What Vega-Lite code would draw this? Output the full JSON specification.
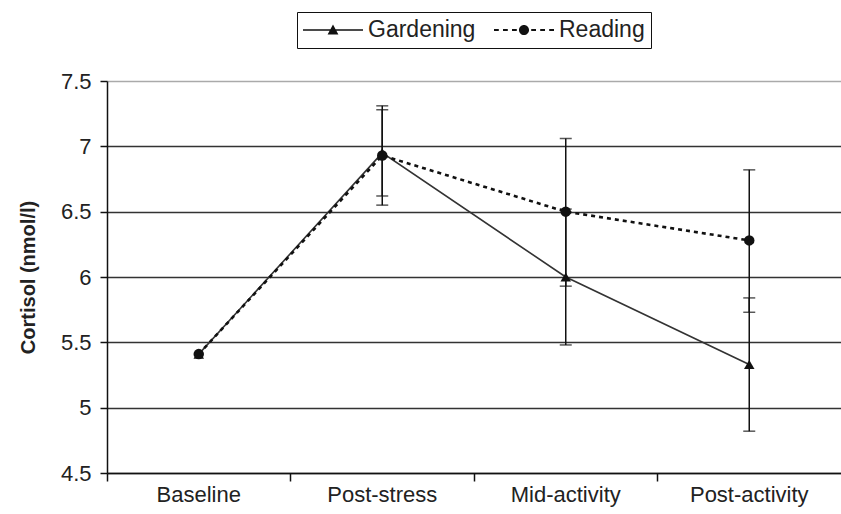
{
  "$schema": "https://vega.github.io/schema/vega-lite/v6.json",
  "width": 734,
  "height": 392,
  "autosize": {"type": "none"},
  "padding": {"left": 107, "top": 81, "right": 0, "bottom": 41},
  "background": "white",
  "data": {
    "values": [
      {"time": "Baseline", "group": "Gardening", "mean": 5.41, "lower": null, "upper": null},
      {"time": "Baseline", "group": "Reading", "mean": 5.41, "lower": null, "upper": null},
      {"time": "Post-stress", "group": "Gardening", "mean": 6.95, "lower": 6.55, "upper": 7.31},
      {"time": "Post-stress", "group": "Reading", "mean": 6.93, "lower": 6.62, "upper": 7.28},
      {"time": "Mid-activity", "group": "Gardening", "mean": 6.0, "lower": 5.48, "upper": 6.52},
      {"time": "Mid-activity", "group": "Reading", "mean": 6.5, "lower": 5.93, "upper": 7.06},
      {"time": "Post-activity", "group": "Gardening", "mean": 5.33, "lower": 4.82, "upper": 5.84},
      {"time": "Post-activity", "group": "Reading", "mean": 6.28, "lower": 5.73, "upper": 6.82}
    ]
  },
  "encoding": {
    "x": {
      "field": "time",
      "type": "nominal",
      "sort": ["Baseline", "Post-stress", "Mid-activity", "Post-activity"],
      "scale": {"type": "band", "paddingInner": 0, "paddingOuter": 0},
      "axis": {
        "title": null,
        "labelAngle": 0,
        "bandPosition": 0,
        "grid": false,
        "ticks": true,
        "tickSize": 8,
        "tickWidth": 1.5,
        "tickColor": "#111",
        "domainColor": "#111",
        "domainWidth": 1.5,
        "labelPadding": 3,
        "labelFontSize": 22,
        "labelFont": "Liberation Sans",
        "labelColor": "#222"
      }
    }
  },
  "layer": [
    {
      "transform": [{"filter": "datum.group === 'Gardening'"}],
      "mark": {"type": "line", "color": "#333", "strokeWidth": 1.6},
      "encoding": {
        "y": {
          "field": "mean",
          "type": "quantitative",
          "scale": {"domain": [4.5, 7.5], "nice": false, "zero": false},
          "axis": {
            "title": "Cortisol (nmol/l)",
            "titleFont": "Liberation Sans",
            "titleFontSize": 20,
            "titleFontWeight": "bold",
            "titleColor": "#222",
            "titlePadding": 22,
            "values": [4.5, 5, 5.5, 6, 6.5, 7, 7.5],
            "format": ".2~f",
            "grid": true,
            "gridColor": {"expr": "datum.value === 7.5 ? '#aaaaaa' : '#333333'"},
            "gridWidth": 1.5,
            "domainColor": "#111",
            "domainWidth": 1.5,
            "tickColor": "#111",
            "tickWidth": 1.5,
            "tickSize": 7,
            "labelPadding": 9,
            "labelFont": "Liberation Sans",
            "labelFontSize": 22,
            "labelColor": "#222"
          }
        }
      }
    },
    {
      "transform": [{"filter": "datum.group === 'Reading'"}],
      "mark": {"type": "line", "color": "#111", "strokeWidth": 2.6, "strokeDash": [4, 4]},
      "encoding": {"y": {"field": "mean", "type": "quantitative"}}
    },
    {
      "transform": [{"filter": "isValid(datum.lower)"}],
      "mark": {"type": "rule", "color": "#111", "strokeWidth": 1.5},
      "encoding": {
        "y": {"field": "lower", "type": "quantitative"},
        "y2": {"field": "upper"}
      }
    },
    {
      "transform": [{"filter": "isValid(datum.lower)"}],
      "mark": {"type": "tick", "color": "#111", "size": 12, "thickness": 1.5, "orient": "horizontal"},
      "encoding": {"y": {"field": "lower", "type": "quantitative"}}
    },
    {
      "transform": [{"filter": "isValid(datum.upper)"}],
      "mark": {"type": "tick", "color": "#111", "size": 12, "thickness": 1.5, "orient": "horizontal"},
      "encoding": {"y": {"field": "upper", "type": "quantitative"}}
    },
    {
      "mark": {"type": "point", "filled": true, "color": "#111", "opacity": 1, "size": 110},
      "encoding": {
        "y": {"field": "mean", "type": "quantitative"},
        "shape": {
          "condition": {"test": "datum.group === 'Gardening'", "value": "triangle-up"},
          "value": "circle"
        }
      }
    },
    {
      "transform": [{"filter": "datum.group === 'none'"}],
      "mark": {"type": "point", "filled": true, "color": "#111", "opacity": 1},
      "encoding": {
        "y": {"field": "mean", "type": "quantitative"},
        "shape": {
          "field": "group",
          "type": "nominal",
          "scale": {
            "domain": ["Gardening", "Reading"],
            "range": [
              "M-1,-0.06H4V0.06H-1Z M1.5,-0.45L1.95,0.38L1.05,0.38Z",
              "M-1,-0.09H-0.6V0.09H-1Z M-0.25,-0.09H0.15V0.09H-0.25Z M0.5,-0.09H0.9V0.09H0.5Z M1.1,-0.09H1.9V0.09H1.1Z M2.1,-0.09H2.5V0.09H2.1Z M2.85,-0.09H3.25V0.09H2.85Z M3.6,-0.09H4V0.09H3.6Z M1.92,0A0.42,0.42,0,1,1,1.08,0A0.42,0.42,0,1,1,1.92,0Z"
            ]
          },
          "legend": {
            "title": null,
            "orient": "none",
            "legendX": 190,
            "legendY": -69,
            "direction": "horizontal",
            "strokeColor": "#111",
            "padding": 6,
            "columnPadding": 18,
            "labelOffset": 41,
            "symbolSize": 576,
            "symbolFillColor": "#111",
            "symbolStrokeWidth": 0,
            "labelFont": "Liberation Sans",
            "labelFontSize": 23,
            "labelColor": "#222"
          }
        }
      }
    }
  ],
  "config": {
    "view": {"stroke": null}
  }
}
